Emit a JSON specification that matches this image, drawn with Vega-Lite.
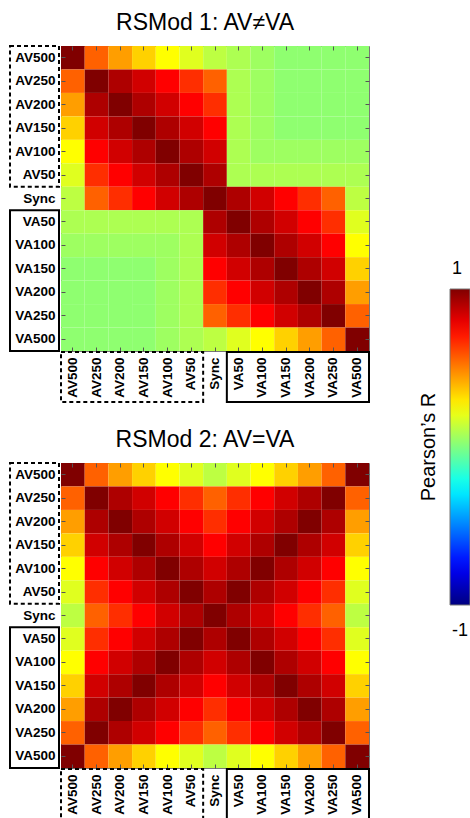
{
  "$schema": "https://vega.github.io/schema/vega-lite/v6.json",
  "padding": {"left": 9, "top": 11, "right": 0, "bottom": 0},
  "config": {
    "view": {"stroke": null},
    "font": "Liberation Sans",
    "axis": {"labelFont": "Liberation Sans", "labelColor": "black", "title": null}
  },
  "datasets": {
    "boxes": [
      {"g": "AV", "s": "AV500", "e": "AV50"},
      {"g": "VA", "s": "VA50", "e": "VA500"}
    ],
    "m1": [
      {"r":"AV500","c":"AV500","v":1},{"r":"AV500","c":"AV250","v":0.56},{"r":"AV500","c":"AV200","v":0.44},{"r":"AV500","c":"AV150","v":0.34},{"r":"AV500","c":"AV100","v":0.25},{"r":"AV500","c":"AV50","v":0.19},{"r":"AV500","c":"Sync","v":0.12},{"r":"AV500","c":"VA50","v":0.09},{"r":"AV500","c":"VA100","v":0.06},{"r":"AV500","c":"VA150","v":0.03},{"r":"AV500","c":"VA200","v":0.03},{"r":"AV500","c":"VA250","v":0.03},{"r":"AV500","c":"VA500","v":0.03},
      {"r":"AV250","c":"AV500","v":0.56},{"r":"AV250","c":"AV250","v":1},{"r":"AV250","c":"AV200","v":0.91},{"r":"AV250","c":"AV150","v":0.84},{"r":"AV250","c":"AV100","v":0.75},{"r":"AV250","c":"AV50","v":0.66},{"r":"AV250","c":"Sync","v":0.56},{"r":"AV250","c":"VA50","v":0.09},{"r":"AV250","c":"VA100","v":0.06},{"r":"AV250","c":"VA150","v":0.03},{"r":"AV250","c":"VA200","v":0.03},{"r":"AV250","c":"VA250","v":0.03},{"r":"AV250","c":"VA500","v":0.03},
      {"r":"AV200","c":"AV500","v":0.44},{"r":"AV200","c":"AV250","v":0.91},{"r":"AV200","c":"AV200","v":1},{"r":"AV200","c":"AV150","v":0.91},{"r":"AV200","c":"AV100","v":0.84},{"r":"AV200","c":"AV50","v":0.75},{"r":"AV200","c":"Sync","v":0.66},{"r":"AV200","c":"VA50","v":0.09},{"r":"AV200","c":"VA100","v":0.06},{"r":"AV200","c":"VA150","v":0.03},{"r":"AV200","c":"VA200","v":0.03},{"r":"AV200","c":"VA250","v":0.03},{"r":"AV200","c":"VA500","v":0.03},
      {"r":"AV150","c":"AV500","v":0.34},{"r":"AV150","c":"AV250","v":0.84},{"r":"AV150","c":"AV200","v":0.91},{"r":"AV150","c":"AV150","v":1},{"r":"AV150","c":"AV100","v":0.91},{"r":"AV150","c":"AV50","v":0.84},{"r":"AV150","c":"Sync","v":0.75},{"r":"AV150","c":"VA50","v":0.09},{"r":"AV150","c":"VA100","v":0.06},{"r":"AV150","c":"VA150","v":0.03},{"r":"AV150","c":"VA200","v":0.03},{"r":"AV150","c":"VA250","v":0.03},{"r":"AV150","c":"VA500","v":0.03},
      {"r":"AV100","c":"AV500","v":0.25},{"r":"AV100","c":"AV250","v":0.75},{"r":"AV100","c":"AV200","v":0.84},{"r":"AV100","c":"AV150","v":0.91},{"r":"AV100","c":"AV100","v":1},{"r":"AV100","c":"AV50","v":0.91},{"r":"AV100","c":"Sync","v":0.84},{"r":"AV100","c":"VA50","v":0.09},{"r":"AV100","c":"VA100","v":0.06},{"r":"AV100","c":"VA150","v":0.06},{"r":"AV100","c":"VA200","v":0.06},{"r":"AV100","c":"VA250","v":0.06},{"r":"AV100","c":"VA500","v":0.06},
      {"r":"AV50","c":"AV500","v":0.19},{"r":"AV50","c":"AV250","v":0.66},{"r":"AV50","c":"AV200","v":0.75},{"r":"AV50","c":"AV150","v":0.84},{"r":"AV50","c":"AV100","v":0.91},{"r":"AV50","c":"AV50","v":1},{"r":"AV50","c":"Sync","v":0.91},{"r":"AV50","c":"VA50","v":0.09},{"r":"AV50","c":"VA100","v":0.09},{"r":"AV50","c":"VA150","v":0.09},{"r":"AV50","c":"VA200","v":0.09},{"r":"AV50","c":"VA250","v":0.09},{"r":"AV50","c":"VA500","v":0.09},
      {"r":"Sync","c":"AV500","v":0.12},{"r":"Sync","c":"AV250","v":0.56},{"r":"Sync","c":"AV200","v":0.66},{"r":"Sync","c":"AV150","v":0.75},{"r":"Sync","c":"AV100","v":0.84},{"r":"Sync","c":"AV50","v":0.91},{"r":"Sync","c":"Sync","v":1},{"r":"Sync","c":"VA50","v":0.91},{"r":"Sync","c":"VA100","v":0.84},{"r":"Sync","c":"VA150","v":0.75},{"r":"Sync","c":"VA200","v":0.66},{"r":"Sync","c":"VA250","v":0.56},{"r":"Sync","c":"VA500","v":0.12},
      {"r":"VA50","c":"AV500","v":0.09},{"r":"VA50","c":"AV250","v":0.09},{"r":"VA50","c":"AV200","v":0.09},{"r":"VA50","c":"AV150","v":0.09},{"r":"VA50","c":"AV100","v":0.09},{"r":"VA50","c":"AV50","v":0.09},{"r":"VA50","c":"Sync","v":0.91},{"r":"VA50","c":"VA50","v":1},{"r":"VA50","c":"VA100","v":0.91},{"r":"VA50","c":"VA150","v":0.84},{"r":"VA50","c":"VA200","v":0.75},{"r":"VA50","c":"VA250","v":0.66},{"r":"VA50","c":"VA500","v":0.19},
      {"r":"VA100","c":"AV500","v":0.06},{"r":"VA100","c":"AV250","v":0.06},{"r":"VA100","c":"AV200","v":0.06},{"r":"VA100","c":"AV150","v":0.06},{"r":"VA100","c":"AV100","v":0.06},{"r":"VA100","c":"AV50","v":0.09},{"r":"VA100","c":"Sync","v":0.84},{"r":"VA100","c":"VA50","v":0.91},{"r":"VA100","c":"VA100","v":1},{"r":"VA100","c":"VA150","v":0.91},{"r":"VA100","c":"VA200","v":0.84},{"r":"VA100","c":"VA250","v":0.75},{"r":"VA100","c":"VA500","v":0.25},
      {"r":"VA150","c":"AV500","v":0.03},{"r":"VA150","c":"AV250","v":0.03},{"r":"VA150","c":"AV200","v":0.03},{"r":"VA150","c":"AV150","v":0.03},{"r":"VA150","c":"AV100","v":0.06},{"r":"VA150","c":"AV50","v":0.09},{"r":"VA150","c":"Sync","v":0.75},{"r":"VA150","c":"VA50","v":0.84},{"r":"VA150","c":"VA100","v":0.91},{"r":"VA150","c":"VA150","v":1},{"r":"VA150","c":"VA200","v":0.91},{"r":"VA150","c":"VA250","v":0.84},{"r":"VA150","c":"VA500","v":0.34},
      {"r":"VA200","c":"AV500","v":0.03},{"r":"VA200","c":"AV250","v":0.03},{"r":"VA200","c":"AV200","v":0.03},{"r":"VA200","c":"AV150","v":0.03},{"r":"VA200","c":"AV100","v":0.06},{"r":"VA200","c":"AV50","v":0.09},{"r":"VA200","c":"Sync","v":0.66},{"r":"VA200","c":"VA50","v":0.75},{"r":"VA200","c":"VA100","v":0.84},{"r":"VA200","c":"VA150","v":0.91},{"r":"VA200","c":"VA200","v":1},{"r":"VA200","c":"VA250","v":0.91},{"r":"VA200","c":"VA500","v":0.44},
      {"r":"VA250","c":"AV500","v":0.03},{"r":"VA250","c":"AV250","v":0.03},{"r":"VA250","c":"AV200","v":0.03},{"r":"VA250","c":"AV150","v":0.03},{"r":"VA250","c":"AV100","v":0.06},{"r":"VA250","c":"AV50","v":0.09},{"r":"VA250","c":"Sync","v":0.56},{"r":"VA250","c":"VA50","v":0.66},{"r":"VA250","c":"VA100","v":0.75},{"r":"VA250","c":"VA150","v":0.84},{"r":"VA250","c":"VA200","v":0.91},{"r":"VA250","c":"VA250","v":1},{"r":"VA250","c":"VA500","v":0.56},
      {"r":"VA500","c":"AV500","v":0.03},{"r":"VA500","c":"AV250","v":0.03},{"r":"VA500","c":"AV200","v":0.03},{"r":"VA500","c":"AV150","v":0.03},{"r":"VA500","c":"AV100","v":0.06},{"r":"VA500","c":"AV50","v":0.09},{"r":"VA500","c":"Sync","v":0.12},{"r":"VA500","c":"VA50","v":0.19},{"r":"VA500","c":"VA100","v":0.25},{"r":"VA500","c":"VA150","v":0.34},{"r":"VA500","c":"VA200","v":0.44},{"r":"VA500","c":"VA250","v":0.56},{"r":"VA500","c":"VA500","v":1}
    ],
    "m2": [
      {"r":"AV500","c":"AV500","v":1},{"r":"AV500","c":"AV250","v":0.56},{"r":"AV500","c":"AV200","v":0.44},{"r":"AV500","c":"AV150","v":0.34},{"r":"AV500","c":"AV100","v":0.25},{"r":"AV500","c":"AV50","v":0.19},{"r":"AV500","c":"Sync","v":0.12},{"r":"AV500","c":"VA50","v":0.19},{"r":"AV500","c":"VA100","v":0.25},{"r":"AV500","c":"VA150","v":0.34},{"r":"AV500","c":"VA200","v":0.44},{"r":"AV500","c":"VA250","v":0.56},{"r":"AV500","c":"VA500","v":1},
      {"r":"AV250","c":"AV500","v":0.56},{"r":"AV250","c":"AV250","v":1},{"r":"AV250","c":"AV200","v":0.91},{"r":"AV250","c":"AV150","v":0.84},{"r":"AV250","c":"AV100","v":0.75},{"r":"AV250","c":"AV50","v":0.66},{"r":"AV250","c":"Sync","v":0.56},{"r":"AV250","c":"VA50","v":0.66},{"r":"AV250","c":"VA100","v":0.75},{"r":"AV250","c":"VA150","v":0.84},{"r":"AV250","c":"VA200","v":0.91},{"r":"AV250","c":"VA250","v":1},{"r":"AV250","c":"VA500","v":0.56},
      {"r":"AV200","c":"AV500","v":0.44},{"r":"AV200","c":"AV250","v":0.91},{"r":"AV200","c":"AV200","v":1},{"r":"AV200","c":"AV150","v":0.91},{"r":"AV200","c":"AV100","v":0.84},{"r":"AV200","c":"AV50","v":0.75},{"r":"AV200","c":"Sync","v":0.66},{"r":"AV200","c":"VA50","v":0.75},{"r":"AV200","c":"VA100","v":0.84},{"r":"AV200","c":"VA150","v":0.91},{"r":"AV200","c":"VA200","v":1},{"r":"AV200","c":"VA250","v":0.91},{"r":"AV200","c":"VA500","v":0.44},
      {"r":"AV150","c":"AV500","v":0.34},{"r":"AV150","c":"AV250","v":0.84},{"r":"AV150","c":"AV200","v":0.91},{"r":"AV150","c":"AV150","v":1},{"r":"AV150","c":"AV100","v":0.91},{"r":"AV150","c":"AV50","v":0.84},{"r":"AV150","c":"Sync","v":0.75},{"r":"AV150","c":"VA50","v":0.84},{"r":"AV150","c":"VA100","v":0.91},{"r":"AV150","c":"VA150","v":1},{"r":"AV150","c":"VA200","v":0.91},{"r":"AV150","c":"VA250","v":0.84},{"r":"AV150","c":"VA500","v":0.34},
      {"r":"AV100","c":"AV500","v":0.25},{"r":"AV100","c":"AV250","v":0.75},{"r":"AV100","c":"AV200","v":0.84},{"r":"AV100","c":"AV150","v":0.91},{"r":"AV100","c":"AV100","v":1},{"r":"AV100","c":"AV50","v":0.91},{"r":"AV100","c":"Sync","v":0.84},{"r":"AV100","c":"VA50","v":0.91},{"r":"AV100","c":"VA100","v":1},{"r":"AV100","c":"VA150","v":0.91},{"r":"AV100","c":"VA200","v":0.84},{"r":"AV100","c":"VA250","v":0.75},{"r":"AV100","c":"VA500","v":0.25},
      {"r":"AV50","c":"AV500","v":0.19},{"r":"AV50","c":"AV250","v":0.66},{"r":"AV50","c":"AV200","v":0.75},{"r":"AV50","c":"AV150","v":0.84},{"r":"AV50","c":"AV100","v":0.91},{"r":"AV50","c":"AV50","v":1},{"r":"AV50","c":"Sync","v":0.91},{"r":"AV50","c":"VA50","v":1},{"r":"AV50","c":"VA100","v":0.91},{"r":"AV50","c":"VA150","v":0.84},{"r":"AV50","c":"VA200","v":0.75},{"r":"AV50","c":"VA250","v":0.66},{"r":"AV50","c":"VA500","v":0.19},
      {"r":"Sync","c":"AV500","v":0.12},{"r":"Sync","c":"AV250","v":0.56},{"r":"Sync","c":"AV200","v":0.66},{"r":"Sync","c":"AV150","v":0.75},{"r":"Sync","c":"AV100","v":0.84},{"r":"Sync","c":"AV50","v":0.91},{"r":"Sync","c":"Sync","v":1},{"r":"Sync","c":"VA50","v":0.91},{"r":"Sync","c":"VA100","v":0.84},{"r":"Sync","c":"VA150","v":0.75},{"r":"Sync","c":"VA200","v":0.66},{"r":"Sync","c":"VA250","v":0.56},{"r":"Sync","c":"VA500","v":0.12},
      {"r":"VA50","c":"AV500","v":0.19},{"r":"VA50","c":"AV250","v":0.66},{"r":"VA50","c":"AV200","v":0.75},{"r":"VA50","c":"AV150","v":0.84},{"r":"VA50","c":"AV100","v":0.91},{"r":"VA50","c":"AV50","v":1},{"r":"VA50","c":"Sync","v":0.91},{"r":"VA50","c":"VA50","v":1},{"r":"VA50","c":"VA100","v":0.91},{"r":"VA50","c":"VA150","v":0.84},{"r":"VA50","c":"VA200","v":0.75},{"r":"VA50","c":"VA250","v":0.66},{"r":"VA50","c":"VA500","v":0.19},
      {"r":"VA100","c":"AV500","v":0.25},{"r":"VA100","c":"AV250","v":0.75},{"r":"VA100","c":"AV200","v":0.84},{"r":"VA100","c":"AV150","v":0.91},{"r":"VA100","c":"AV100","v":1},{"r":"VA100","c":"AV50","v":0.91},{"r":"VA100","c":"Sync","v":0.84},{"r":"VA100","c":"VA50","v":0.91},{"r":"VA100","c":"VA100","v":1},{"r":"VA100","c":"VA150","v":0.91},{"r":"VA100","c":"VA200","v":0.84},{"r":"VA100","c":"VA250","v":0.75},{"r":"VA100","c":"VA500","v":0.25},
      {"r":"VA150","c":"AV500","v":0.34},{"r":"VA150","c":"AV250","v":0.84},{"r":"VA150","c":"AV200","v":0.91},{"r":"VA150","c":"AV150","v":1},{"r":"VA150","c":"AV100","v":0.91},{"r":"VA150","c":"AV50","v":0.84},{"r":"VA150","c":"Sync","v":0.75},{"r":"VA150","c":"VA50","v":0.84},{"r":"VA150","c":"VA100","v":0.91},{"r":"VA150","c":"VA150","v":1},{"r":"VA150","c":"VA200","v":0.91},{"r":"VA150","c":"VA250","v":0.84},{"r":"VA150","c":"VA500","v":0.34},
      {"r":"VA200","c":"AV500","v":0.44},{"r":"VA200","c":"AV250","v":0.91},{"r":"VA200","c":"AV200","v":1},{"r":"VA200","c":"AV150","v":0.91},{"r":"VA200","c":"AV100","v":0.84},{"r":"VA200","c":"AV50","v":0.75},{"r":"VA200","c":"Sync","v":0.66},{"r":"VA200","c":"VA50","v":0.75},{"r":"VA200","c":"VA100","v":0.84},{"r":"VA200","c":"VA150","v":0.91},{"r":"VA200","c":"VA200","v":1},{"r":"VA200","c":"VA250","v":0.91},{"r":"VA200","c":"VA500","v":0.44},
      {"r":"VA250","c":"AV500","v":0.56},{"r":"VA250","c":"AV250","v":1},{"r":"VA250","c":"AV200","v":0.91},{"r":"VA250","c":"AV150","v":0.84},{"r":"VA250","c":"AV100","v":0.75},{"r":"VA250","c":"AV50","v":0.66},{"r":"VA250","c":"Sync","v":0.56},{"r":"VA250","c":"VA50","v":0.66},{"r":"VA250","c":"VA100","v":0.75},{"r":"VA250","c":"VA150","v":0.84},{"r":"VA250","c":"VA200","v":0.91},{"r":"VA250","c":"VA250","v":1},{"r":"VA250","c":"VA500","v":0.56},
      {"r":"VA500","c":"AV500","v":1},{"r":"VA500","c":"AV250","v":0.56},{"r":"VA500","c":"AV200","v":0.44},{"r":"VA500","c":"AV150","v":0.34},{"r":"VA500","c":"AV100","v":0.25},{"r":"VA500","c":"AV50","v":0.19},{"r":"VA500","c":"Sync","v":0.12},{"r":"VA500","c":"VA50","v":0.19},{"r":"VA500","c":"VA100","v":0.25},{"r":"VA500","c":"VA150","v":0.34},{"r":"VA500","c":"VA200","v":0.44},{"r":"VA500","c":"VA250","v":0.56},{"r":"VA500","c":"VA500","v":1}
    ]
  },
  "columns": 2,
  "align": "each",
  "bounds": "flush",
  "spacing": {"row": 1, "column": 2},
  "concat": [
    {
      "width": 49, "height": 305,
      "data": {"name": "boxes"},
      "encoding": {
        "y": {"field": "s", "type": "nominal", "bandPosition": 0, "scale": {"domain": ["AV500","AV250","AV200","AV150","AV100","AV50","Sync","VA50","VA100","VA150","VA200","VA250","VA500"]}, "axis": null},
        "y2": {"field": "e", "bandPosition": 1}
      },
      "layer": [
        {"transform": [{"filter": "datum.g === 'AV'"}], "mark": {"type": "rect", "filled": false, "stroke": "black", "strokeWidth": 2, "strokeDash": [4, 3]}},
        {"transform": [{"filter": "datum.g === 'VA'"}], "mark": {"type": "rect", "filled": false, "stroke": "black", "strokeWidth": 2}}
      ]
    },
    {
      "width": 308, "height": 305,
      "title": {"text": "RSMod 1: AV≠VA", "font": "Liberation Sans", "fontSize": 23, "fontWeight": "normal", "color": "black", "dx": -10, "offset": -7, "baseline": "alphabetic"},
      "view": {"stroke": "#777", "strokeWidth": 1},
      "layer": [
        {
          "data": {"name": "m1"},
          "mark": "rect",
          "encoding": {
            "x": {"field": "c", "type": "nominal", "scale": {"domain": ["AV500","AV250","AV200","AV150","AV100","AV50","Sync","VA50","VA100","VA150","VA200","VA250","VA500"]}, "axis": {"orient": "bottom", "labelAngle": 270, "labelFontWeight": "bold", "labelFontSize": 13.5, "labelPadding": 10, "tickSize": -4, "tickColor": "#555", "domain": false}},
            "y": {"field": "r", "type": "nominal", "scale": {"domain": ["AV500","AV250","AV200","AV150","AV100","AV50","Sync","VA50","VA100","VA150","VA200","VA250","VA500"]}, "axis": {"orient": "left", "labelFontWeight": "bold", "labelFontSize": 13.5, "labelPadding": 10, "tickSize": -4, "tickColor": "#555", "domain": false}},
            "color": {"field": "v", "type": "quantitative", "scale": {"domain": [-1, -0.75, -0.25, 0.25, 0.75, 1], "range": ["#000080", "#0000FF", "#00FFFF", "#FFFF00", "#FF0000", "#800000"], "interpolate": "rgb"},
              "legend": {"orient": "none", "legendX": 409, "legendY": 243, "direction": "vertical", "gradientLength": 316, "gradientThickness": 20, "gradientStrokeColor": "#777", "gradientStrokeWidth": 1, "padding": 0, "title": "Pearson’s R", "titleOrient": "left", "titleAnchor": "middle", "titleFont": "Liberation Sans", "titleFontSize": 20, "titleFontWeight": "normal", "titleColor": "black", "titlePadding": 10, "values": [-1, 1], "labelExpr": "datum.value > 0 ? '1' : '-1'", "labelOverlap": false, "labelFont": "Liberation Sans", "labelFontSize": 18, "labelColor": "black", "labelOffset": -18, "encode": {"labels": {"update": {"dy": {"signal": "datum.value > 0 ? -29 : 35"}}}}}}
          }
        },
        {
          "data": {"values": []},
          "mark": "rect",
          "encoding": {
            "x": {"field": "c", "type": "nominal", "axis": {"orient": "top", "labels": false, "tickSize": -4, "tickColor": "#555", "domain": false}},
            "y": {"field": "r", "type": "nominal", "axis": {"orient": "right", "labels": false, "tickSize": -4, "tickColor": "#555", "domain": false}}
          }
        }
      ],
      "resolve": {"axis": {"x": "independent", "y": "independent"}}
    },
    {"width": 49, "height": 50, "data": {"values": []}, "mark": "rect", "encoding": {}},
    {
      "width": 308, "height": 50,
      "data": {"name": "boxes"},
      "encoding": {
        "x": {"field": "s", "type": "nominal", "bandPosition": 0, "scale": {"domain": ["AV500","AV250","AV200","AV150","AV100","AV50","Sync","VA50","VA100","VA150","VA200","VA250","VA500"]}, "axis": null},
        "x2": {"field": "e", "bandPosition": 1}
      },
      "layer": [
        {"transform": [{"filter": "datum.g === 'AV'"}], "mark": {"type": "rect", "filled": false, "stroke": "black", "strokeWidth": 2, "strokeDash": [4, 3]}},
        {"transform": [{"filter": "datum.g === 'VA'"}], "mark": {"type": "rect", "filled": false, "stroke": "black", "strokeWidth": 2}}
      ]
    },
    {"width": 49, "height": 59, "data": {"values": []}, "mark": "rect", "encoding": {}},
    {"width": 308, "height": 59, "data": {"values": []}, "mark": "rect", "encoding": {}},
    {
      "width": 49, "height": 305,
      "data": {"name": "boxes"},
      "encoding": {
        "y": {"field": "s", "type": "nominal", "bandPosition": 0, "scale": {"domain": ["AV500","AV250","AV200","AV150","AV100","AV50","Sync","VA50","VA100","VA150","VA200","VA250","VA500"]}, "axis": null},
        "y2": {"field": "e", "bandPosition": 1}
      },
      "layer": [
        {"transform": [{"filter": "datum.g === 'AV'"}], "mark": {"type": "rect", "filled": false, "stroke": "black", "strokeWidth": 2, "strokeDash": [4, 3]}},
        {"transform": [{"filter": "datum.g === 'VA'"}], "mark": {"type": "rect", "filled": false, "stroke": "black", "strokeWidth": 2}}
      ]
    },
    {
      "width": 308, "height": 305,
      "title": {"text": "RSMod 2: AV=VA", "font": "Liberation Sans", "fontSize": 23, "fontWeight": "normal", "color": "black", "dx": -10, "offset": -7, "baseline": "alphabetic"},
      "view": {"stroke": "#777", "strokeWidth": 1},
      "layer": [
        {
          "data": {"name": "m2"},
          "mark": "rect",
          "encoding": {
            "x": {"field": "c", "type": "nominal", "scale": {"domain": ["AV500","AV250","AV200","AV150","AV100","AV50","Sync","VA50","VA100","VA150","VA200","VA250","VA500"]}, "axis": {"orient": "bottom", "labelAngle": 270, "labelFontWeight": "bold", "labelFontSize": 13.5, "labelPadding": 10, "tickSize": -4, "tickColor": "#555", "domain": false}},
            "y": {"field": "r", "type": "nominal", "scale": {"domain": ["AV500","AV250","AV200","AV150","AV100","AV50","Sync","VA50","VA100","VA150","VA200","VA250","VA500"]}, "axis": {"orient": "left", "labelFontWeight": "bold", "labelFontSize": 13.5, "labelPadding": 10, "tickSize": -4, "tickColor": "#555", "domain": false}},
            "color": {"field": "v", "type": "quantitative"}
          }
        },
        {
          "data": {"values": []},
          "mark": "rect",
          "encoding": {
            "x": {"field": "c", "type": "nominal", "axis": {"orient": "top", "labels": false, "tickSize": -4, "tickColor": "#555", "domain": false}},
            "y": {"field": "r", "type": "nominal", "axis": {"orient": "right", "labels": false, "tickSize": -4, "tickColor": "#555", "domain": false}}
          }
        }
      ],
      "resolve": {"axis": {"x": "independent", "y": "independent"}}
    },
    {"width": 49, "height": 50, "data": {"values": []}, "mark": "rect", "encoding": {}},
    {
      "width": 308, "height": 50,
      "data": {"name": "boxes"},
      "encoding": {
        "x": {"field": "s", "type": "nominal", "bandPosition": 0, "scale": {"domain": ["AV500","AV250","AV200","AV150","AV100","AV50","Sync","VA50","VA100","VA150","VA200","VA250","VA500"]}, "axis": null},
        "x2": {"field": "e", "bandPosition": 1}
      },
      "layer": [
        {"transform": [{"filter": "datum.g === 'AV'"}], "mark": {"type": "rect", "filled": false, "stroke": "black", "strokeWidth": 2, "strokeDash": [4, 3]}},
        {"transform": [{"filter": "datum.g === 'VA'"}], "mark": {"type": "rect", "filled": false, "stroke": "black", "strokeWidth": 2}}
      ]
    }
  ]
}
